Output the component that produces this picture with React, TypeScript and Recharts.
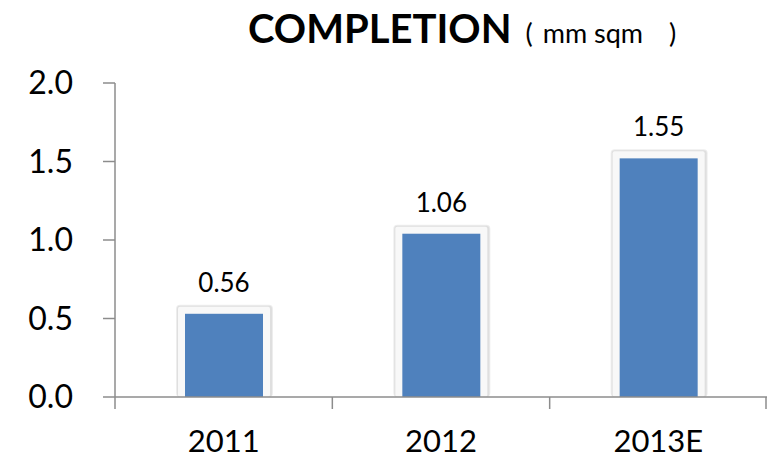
import { BarChart, Bar, XAxis, YAxis, LabelList } from "recharts"

const years = ["2011", "2012", "2013E"]
const completion = [0.53, 1.04, 1.52]
const valueLabels = ["0.56", "1.06", "1.55"]
const yTicks = [0, 0.5, 1.0, 1.5, 2.0]

const data = years.map((year, i) => ({ year, value: completion[i], label: valueLabels[i] }))

const font = "Lato, 'Open Sans', sans-serif"
const axisColor = "#8c8c8c"

// white framed bar with soft shadow
function FramedBar(props: any) {
  const { x, y, width, height } = props
  const pad = 8
  return (
    <g>
      <rect x={x - pad - 1} y={y - pad - 1} width={width + pad * 2 + 3} height={height + pad + 1} fill="#000" opacity={0.07} rx={4} />
      <rect x={x - pad} y={y - pad} width={width + pad * 2 + 1} height={height + pad} fill="#000" opacity={0.06} rx={3} />
      <rect x={x - pad + 1} y={y - pad + 1} width={width + pad * 2 - 2} height={height + pad - 1} fill="#f8f8f8" rx={2} />
      <rect x={x} y={y} width={width} height={height} fill="#4F81BD" />
    </g>
  )
}

// category label plus tick marks on the category boundaries
function YearTick(props: any) {
  const { x, y, payload, index, width } = props
  const half = width / years.length / 2
  return (
    <g>
      <line x1={x - half} y1={y} x2={x - half} y2={y + 12} stroke={axisColor} strokeWidth={1.5} />
      {index === years.length - 1 && (
        <line x1={x + half - 1} y1={y} x2={x + half - 1} y2={y + 12} stroke={axisColor} strokeWidth={1.5} />
      )}
      <text x={x} y={y + 55} textAnchor="middle" fill="#000" fontSize={31} fontFamily={font}>
        {payload.value}
      </text>
    </g>
  )
}

export default function App() {
  return (
    <div style={{ position: "absolute", left: 0, top: 0, width: 768, height: 459, background: "#fff", fontFamily: font }}>
      <div style={{ position: "absolute", left: 248, top: 4, whiteSpace: "nowrap", color: "#000" }}>
        <span style={{ fontSize: 40, fontWeight: 700 }}>COMPLETION</span>
        <span style={{ fontSize: 27, marginLeft: 14 }}>(</span>
        <span style={{ fontSize: 27, marginLeft: 10 }}>mm sqm</span>
        <span style={{ fontSize: 27, marginLeft: 26 }}>)</span>
      </div>
      <BarChart width={768} height={459} data={data} margin={{ top: 83, right: 1, left: 0, bottom: 0 }}>
        <XAxis
          dataKey="year"
          height={62}
          axisLine={{ stroke: axisColor, strokeWidth: 1.5 }}
          tickLine={false}
          tick={<YearTick />}
          tickSize={0}
          tickMargin={0}
          interval={0}
        />
        <YAxis
          domain={[0, 2]}
          ticks={yTicks}
          width={115}
          tickFormatter={(v: number) => v.toFixed(1)}
          axisLine={{ stroke: axisColor, strokeWidth: 1.5 }}
          tickLine={{ stroke: axisColor, strokeWidth: 1.5 }}
          tickSize={12}
          tickMargin={30}
          tick={{ fill: "#000", fontSize: 32, fontFamily: font }}
        />
        <Bar dataKey="value" barSize={78} shape={<FramedBar />} isAnimationActive={false}>
          <LabelList dataKey="label" position="top" offset={22} fill="#000" fontSize={26} fontFamily={font} />
        </Bar>
      </BarChart>
    </div>
  )
}
